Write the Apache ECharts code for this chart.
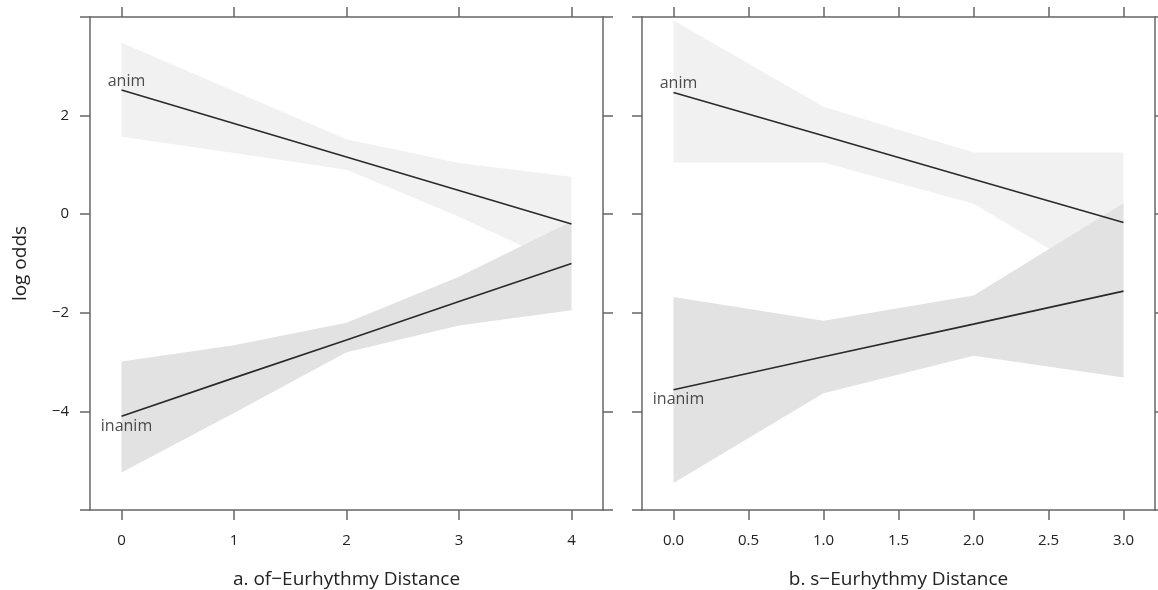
<!DOCTYPE html>
<html>
<head>
<meta charset="utf-8">
<script src="https://cdn.jsdelivr.net/npm/echarts@6/dist/echarts.min.js"></script>
<style>
  html, body { margin: 0; padding: 0; background: #fff; }
  #chart { width: 1158px; height: 590px; }
</style>
</head>
<body>
<div id="chart"></div>
<script>
  // panel a: of-Eurhythmy distance
  var distA = [0, 1, 2, 3, 4];
  var animFitA = [2.52, 1.84, 1.16, 0.48, -0.2];
  var animLowA = [1.57, 1.24, 0.9, -0.05, -1.1];
  var animUpA = [3.48, 2.5, 1.52, 1.04, 0.76];
  var inanimFitA = [-4.1, -3.32, -2.55, -1.77, -1.0];
  var inanimLowA = [-5.24, -4.03, -2.8, -2.26, -1.95];
  var inanimUpA = [-2.99, -2.66, -2.2, -1.27, -0.15];

  // panel b: s-Eurhythmy distance
  var distB = [0, 1, 2, 3];
  var animFitB = [2.47, 1.59, 0.71, -0.17];
  var animLowB = [1.05, 1.05, 0.21, -1.6];
  var animUpB = [3.93, 2.18, 1.25, 1.25];
  var inanimFitB = [-3.56, -2.89, -2.23, -1.56];
  var inanimLowB = [-5.45, -3.63, -2.87, -3.31];
  var inanimUpB = [-1.68, -2.16, -1.65, 0.22];

  var xTicksA = [0, 1, 2, 3, 4];
  var xTicksB = [0, 0.5, 1, 1.5, 2, 2.5, 3];
  var yTicks = [-4, -2, 0, 2];
  var groupNames = ['anim', 'inanim'];
  var xTitles = ['a. of\u2212Eurhythmy Distance', 'b. s\u2212Eurhythmy Distance'];
  var yTitle = 'log odds';

  var font = '"Open Sans", "DejaVu Sans", sans-serif';
  var axisCol = '#666';
  var textCol = '#222';

  function pairs(xs, ys) {
    return xs.map(function (x, i) { return [x, ys[i]]; });
  }

  // confidence band drawn as one polygon through the axis scales
  function band(ax, xs, lo, up, color) {
    return {
      type: 'custom',
      xAxisIndex: ax, yAxisIndex: ax,
      silent: true,
      z: 1,
      data: xs.map(function (x, i) { return [x, lo[i], up[i]]; }),
      encode: { x: 0, y: [1, 2] },
      renderItem: function (params, api) {
        if (params.dataIndex !== 0) return;
        var pts = [];
        for (var i = 0; i < xs.length; i++) pts.push(api.coord([xs[i], up[i]]));
        for (var j = xs.length - 1; j >= 0; j--) pts.push(api.coord([xs[j], lo[j]]));
        return { type: 'polygon', shape: { points: pts }, style: { fill: color } };
      }
    };
  }

  function fit(ax, xs, ys) {
    return {
      type: 'line', xAxisIndex: ax, yAxisIndex: ax,
      data: pairs(xs, ys), symbol: 'none', z: 3, silent: true,
      lineStyle: { color: '#2a2a2a', width: 1.6 }
    };
  }

  function tag(ax, x, y, name, dy) {
    return {
      type: 'scatter', xAxisIndex: ax, yAxisIndex: ax,
      data: [[x, y]], symbolSize: 1, z: 4, silent: true,
      itemStyle: { color: 'rgba(0,0,0,0)' },
      label: {
        show: true, position: 'inside', offset: [5, dy],
        formatter: name, color: textCol, fontSize: 16, fontFamily: font
      }
    };
  }

  function xAx(grid, min, max, ticks, pos, name, dec) {
    return {
      type: 'value', gridIndex: grid, position: pos, min: min, max: max,
      name: name, nameLocation: 'middle', nameGap: 60,
      nameTextStyle: { color: textCol, fontSize: 19, fontFamily: font },
      axisLine: { show: true, onZero: false, lineStyle: { color: axisCol, width: 1.5 } },
      axisTick: { show: true, length: 10, customValues: ticks, lineStyle: { color: axisCol, width: 1.5 } },
      axisLabel: {
        show: pos === 'bottom', customValues: ticks, margin: 23,
        color: textCol, fontSize: 15, fontFamily: font,
        formatter: function (v) { return dec ? v.toFixed(1) : String(v); }
      },
      splitLine: { show: false }
    };
  }

  function yAx(grid, pos, labels) {
    return {
      type: 'value', gridIndex: grid, position: pos, min: -6, max: 4, interval: 2,
      name: labels ? yTitle : '', nameLocation: 'middle', nameGap: 60,
      nameTextStyle: { color: textCol, fontSize: 19, fontFamily: font },
      axisLine: { show: true, onZero: false, lineStyle: { color: axisCol, width: 1.5 } },
      axisTick: { show: true, length: 10, lineStyle: { color: axisCol, width: 1.5 } },
      axisLabel: {
        show: labels, customValues: yTicks, margin: 21,
        color: textCol, fontSize: 15, fontFamily: font,
        formatter: function (v) { return String(v).replace('-', '\u2212'); }
      },
      splitLine: { show: false }
    };
  }

  var chart = echarts.init(document.getElementById('chart'));
  chart.setOption({
    animation: false,
    backgroundColor: '#fff',
    grid: [
      { left: 90, top: 17, width: 513, height: 493, outerBoundsMode: 'none' },
      { left: 642, top: 17, width: 513, height: 493, outerBoundsMode: 'none' }
    ],
    xAxis: [
      xAx(0, -0.28, 4.28, xTicksA, 'bottom', xTitles[0], false),
      xAx(1, -0.21, 3.21, xTicksB, 'bottom', xTitles[1], true),
      xAx(0, -0.28, 4.28, xTicksA, 'top', '', false),
      xAx(1, -0.21, 3.21, xTicksB, 'top', '', true)
    ],
    yAxis: [
      yAx(0, 'left', true),
      yAx(1, 'left', false),
      yAx(0, 'right', false),
      yAx(1, 'right', false)
    ],
    series: [
      band(0, distA, animLowA, animUpA, '#f1f1f1'),
      band(0, distA, inanimLowA, inanimUpA, '#e2e2e2'),
      fit(0, distA, animFitA),
      fit(0, distA, inanimFitA),
      tag(0, distA[0], animFitA[0], groupNames[0], -9),
      tag(0, distA[0], inanimFitA[0], groupNames[1], 10),
      band(1, distB, animLowB, animUpB, '#f1f1f1'),
      band(1, distB, inanimLowB, inanimUpB, '#e2e2e2'),
      fit(1, distB, animFitB),
      fit(1, distB, inanimFitB),
      tag(1, distB[0], animFitB[0], groupNames[0], -9),
      tag(1, distB[0], inanimFitB[0], groupNames[1], 10)
    ]
  });
</script>
</body>
</html>
